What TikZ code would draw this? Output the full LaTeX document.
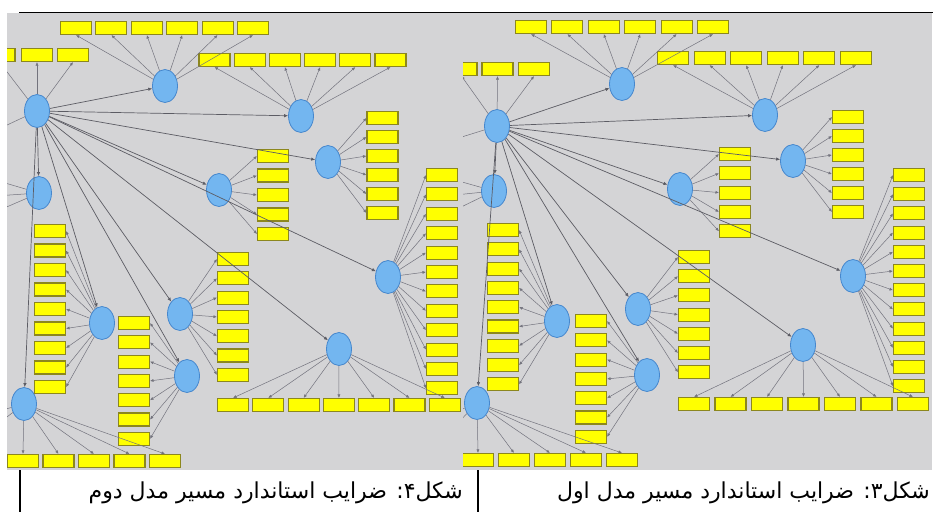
\documentclass[tikz,border=0pt]{standalone}
\usepackage{fontspec}
\newfontfamily\arabicfont[Script=Arabic]{DejaVu Sans}
\TeXXeTstate=1
\usetikzlibrary{shapes.geometric,arrows.meta}

\definecolor{plsgray}{RGB}{212,212,214}
\definecolor{lvfill}{RGB}{115,182,240}
\definecolor{lvline}{RGB}{70,135,205}
\definecolor{mvfill}{RGB}{255,255,0}
\definecolor{mvline}{RGB}{140,135,30}
\definecolor{wire}{RGB}{115,115,125}
\def\capsize{\fontsize{22}{26}\selectfont}
\tikzstyle{latent}=[draw=lvline,fill=lvfill,ellipse,minimum width=25pt,
                    minimum height=33pt,inner sep=0pt,line width=0.8pt]
\tikzstyle{item}=[draw=mvline,fill=mvfill,rectangle,minimum width=31pt,
                  minimum height=13pt,inner sep=0pt,line width=1.1pt]
\tikzstyle{load}=[draw=wire,line width=0.5pt,-{Latex[length=3.5pt,width=3pt]}]
\tikzstyle{beta}=[draw=wire!80!black,line width=0.7pt,-{Latex[length=4pt,width=3.5pt]}]
\tikzstyle{caption}=[anchor=base east,inner sep=0pt,font=\arabicfont\capsize]

\begin{document}
\begin{tikzpicture}[x=1pt,y=-1pt]
  \useasboundingbox (0,0) rectangle (934,512);
  \draw[line width=0.8pt] (19,12) -- (933,12);

  % Second model (left screenshot)
  \begin{scope}
    \clip (7,13) rectangle (463,470);
    \fill[plsgray] (7,13) rectangle (463,470);
    % latent variables
    \node[latent] (Lhub) at (37,111) {};
    \node[latent] (Le1) at (165,86) {};
    \node[latent] (Le2) at (301,116) {};
    \node[latent] (Le3) at (328,162) {};
    \node[latent] (Le4) at (219,190) {};
    \node[latent] (Le5) at (39,193) {};
    \node[latent] (Le6) at (388,277) {};
    \node[latent] (Le7) at (339,349) {};
    \node[latent] (Le8) at (180,314) {};
    \node[latent] (Le9) at (102,323) {};
    \node[latent] (Le10) at (187,376) {};
    \node[latent] (Le11) at (24,404) {};
    % indicators
    \node[item] (Lb0) at (-0.5,55) {};
    \node[item] (Lb1) at (37,55) {};
    \node[item] (Lb2) at (73,55) {};
    \foreach \i in {0,...,5} \node[item] (La\i) at (76+35.4*\i,28) {};
    \foreach \i in {0,...,5} \node[item] (Lc\i) at (214.5+35.2*\i,60) {};
    \foreach \i in {0,...,5} \node[item] (Ld\i) at (382.5,118+19*\i) {};
    \foreach \i in {0,...,4} \node[item] (Lf\i) at (273,156+19.5*\i) {};
    \foreach \i in {0,...,11} \node[item] (Lg\i) at (442,175+19.4*\i) {};
    \foreach \i in {0,...,6} \node[item] (Lh\i) at (233+35.3*\i,405) {};
    \foreach \i in {0,...,6} \node[item] (Lk\i) at (233,259+19.3*\i) {};
    \foreach \i in {0,...,8} \node[item] (Lm\i) at (50,231+19.5*\i) {};
    \foreach \i in {0,...,6} \node[item] (Ln\i) at (134,323+19.3*\i) {};
    \foreach \i in {0,...,4} \node[item] (Lp\i) at (23+35.5*\i,461) {};
    % cut-off ends at the left border
    \coordinate (Lw0) at (-10,133);
    \coordinate (Lw1) at (-5,180);
    \coordinate (Lw2) at (-5,196);
    \coordinate (Lw3) at (-5,212);
    \coordinate (Lw4) at (-5,412);
    \coordinate (Lw5) at (-5,426);
    % loadings
    \foreach \i in {0,...,2} \draw[load] (Lhub) -- (Lb\i.south);
    \draw[load] (Lhub) -- (Lw0);
    \foreach \i in {0,...,5} \draw[load] (Le1) -- (La\i.south);
    \foreach \i in {0,...,5} \draw[load] (Le2) -- (Lc\i.south);
    \foreach \i in {0,...,5} \draw[load] (Le3) -- (Ld\i.west);
    \foreach \i in {0,...,4} \draw[load] (Le4) -- (Lf\i.west);
    \foreach \i in {1,2,3} \draw[load] (Le5) -- (Lw\i);
    \foreach \i in {0,...,11} \draw[load] (Le6) -- (Lg\i.west);
    \foreach \i in {0,...,6} \draw[load] (Le7) -- (Lh\i.north);
    \foreach \i in {0,...,6} \draw[load] (Le8) -- (Lk\i.west);
    \foreach \i in {0,...,8} \draw[load] (Le9) -- (Lm\i.east);
    \foreach \i in {0,...,6} \draw[load] (Le10) -- (Ln\i.east);
    \foreach \i in {0,...,4} \draw[load] (Le11) -- (Lp\i.north);
    \foreach \i in {4,5} \draw[load] (Le11) -- (Lw\i);
    % paths
    \foreach \j in {1,...,11} \draw[beta] (Lhub) -- (Le\j);
  \end{scope}

  % First model (right screenshot)
  \begin{scope}
    \clip (463,13) rectangle (932,470);
    \fill[plsgray] (463,13) rectangle (932,470);
    % latent variables
    \node[latent] (Rhub) at (497,126) {};
    \node[latent] (Re1) at (622,84) {};
    \node[latent] (Re2) at (765,115) {};
    \node[latent] (Re3) at (793,161) {};
    \node[latent] (Re4) at (680,189) {};
    \node[latent] (Re5) at (494,191) {};
    \node[latent] (Re6) at (853,276) {};
    \node[latent] (Re7) at (803,345) {};
    \node[latent] (Re8) at (638,309) {};
    \node[latent] (Re9) at (557,321) {};
    \node[latent] (Re10) at (647,375) {};
    \node[latent] (Re11) at (477,403) {};
    % indicators
    \node[item] (Rb0) at (461.5,69) {};
    \node[item] (Rb1) at (497.5,69) {};
    \node[item] (Rb2) at (534,69) {};
    \foreach \i in {0,...,5} \node[item] (Ra\i) at (531+36.4*\i,27) {};
    \foreach \i in {0,...,5} \node[item] (Rc\i) at (673+36.6*\i,58) {};
    \foreach \i in {0,...,5} \node[item] (Rd\i) at (848,117+19*\i) {};
    \foreach \i in {0,...,4} \node[item] (Rf\i) at (735,154+19.3*\i) {};
    \foreach \i in {0,...,11} \node[item] (Rg\i) at (909,175+19.2*\i) {};
    \foreach \i in {0,...,6} \node[item] (Rh\i) at (694+36.5*\i,404) {};
    \foreach \i in {0,...,6} \node[item] (Rk\i) at (694,257+19.2*\i) {};
    \foreach \i in {0,...,8} \node[item] (Rm\i) at (503,230+19.3*\i) {};
    \foreach \i in {0,...,6} \node[item] (Rn\i) at (591,321+19.3*\i) {};
    \foreach \i in {0,...,4} \node[item] (Rp\i) at (478+36*\i,460) {};
    % cut-off ends at the left border
    \coordinate (Rw0) at (452,140);
    \coordinate (Rw1) at (455,180);
    \coordinate (Rw2) at (455,195);
    \coordinate (Rw3) at (455,210);
    \coordinate (Rw4) at (455,412);
    \coordinate (Rw5) at (455,426);
    % loadings
    \foreach \i in {0,...,2} \draw[load] (Rhub) -- (Rb\i.south);
    \draw[load] (Rhub) -- (Rw0);
    \foreach \i in {0,...,5} \draw[load] (Re1) -- (Ra\i.south);
    \foreach \i in {0,...,5} \draw[load] (Re2) -- (Rc\i.south);
    \foreach \i in {0,...,5} \draw[load] (Re3) -- (Rd\i.west);
    \foreach \i in {0,...,4} \draw[load] (Re4) -- (Rf\i.west);
    \foreach \i in {1,2,3} \draw[load] (Re5) -- (Rw\i);
    \foreach \i in {0,...,11} \draw[load] (Re6) -- (Rg\i.west);
    \foreach \i in {0,...,6} \draw[load] (Re7) -- (Rh\i.north);
    \foreach \i in {0,...,6} \draw[load] (Re8) -- (Rk\i.west);
    \foreach \i in {0,...,8} \draw[load] (Re9) -- (Rm\i.east);
    \foreach \i in {0,...,6} \draw[load] (Re10) -- (Rn\i.east);
    \foreach \i in {0,...,4} \draw[load] (Re11) -- (Rp\i.north);
    \foreach \i in {4,5} \draw[load] (Re11) -- (Rw\i);
    % paths
    \foreach \j in {1,...,11} \draw[beta] (Rhub) -- (Re\j);
  \end{scope}

  % captions
  \draw[line width=1.5pt] (20,470) -- (20,512);
  \draw[line width=1.5pt] (478,470) -- (478,512);
  \node[caption] (cap4) at (463,498) {\beginR شکل۴: ضرایب استاندارد مسیر مدل دوم\endR};
  \node[caption] (cap3) at (930,498) {\beginR شکل۳: ضرایب استاندارد مسیر مدل اول\endR};
\end{tikzpicture}
\end{document}
